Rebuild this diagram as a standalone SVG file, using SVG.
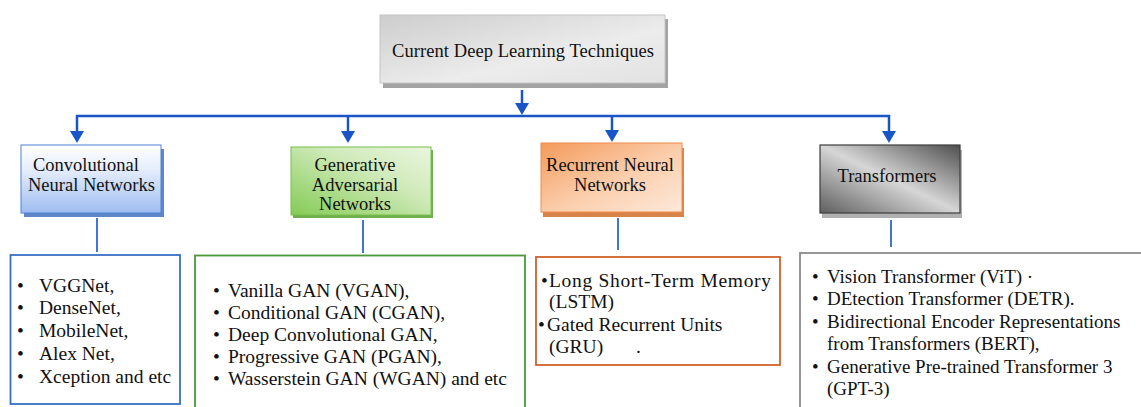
<svg xmlns="http://www.w3.org/2000/svg" width="1141" height="407" viewBox="0 0 1141 407" font-family="'Liberation Serif', 'Times New Roman', Tinos, 'DejaVu Serif', serif">
<defs>
<linearGradient id="gTitle" x1="0" y1="0" x2="1" y2="1">
<stop offset="0" stop-color="#cdcdcd"/><stop offset="0.6" stop-color="#ececec"/><stop offset="1" stop-color="#e2e2e2"/>
</linearGradient>
<linearGradient id="gCnn" x1="0" y1="0" x2="0" y2="1">
<stop offset="0" stop-color="#ffffff"/><stop offset="0.35" stop-color="#e6eefc"/><stop offset="1" stop-color="#9ebdf0"/>
</linearGradient>
<linearGradient id="gGan" x1="0" y1="1" x2="1" y2="0">
<stop offset="0" stop-color="#84cb55"/><stop offset="0.6" stop-color="#cfeab9"/><stop offset="1" stop-color="#eaf6df"/>
</linearGradient>
<linearGradient id="gRnn" x1="0" y1="0" x2="1" y2="1">
<stop offset="0" stop-color="#f49a5b"/><stop offset="0.55" stop-color="#fbcfae"/><stop offset="1" stop-color="#fde9da"/>
</linearGradient>
<linearGradient id="gTr" x1="1" y1="0" x2="0" y2="1">
<stop offset="0" stop-color="#4e4e4e"/><stop offset="0.5" stop-color="#d6d6d6"/><stop offset="1" stop-color="#5e5e5e"/>
</linearGradient>
</defs>
<style>
text{font-family:"Liberation Serif","Times New Roman",Tinos,"DejaVu Serif",serif;fill:#111;}
.hd{font-size:18.5px;}
.li{font-size:19.5px;}
.lt{font-size:19px;}
.arr{stroke:#1a55c8;stroke-width:2.5;fill:none;}
.ah{fill:#1a55c8;}
.sub{stroke:#3f78d4;stroke-width:2;fill:none;}
</style>

<g id="connectors">
<line class="arr" x1="522" y1="90" x2="522" y2="104"/>
<path class="ah" d="M515,103 L529,103 L522,115 Z"/>
<polyline class="arr" points="77,134 77,116 889,116 889,134" stroke-linejoin="miter"/>
<path class="ah" d="M70,131 L84,131 L77,143 Z"/>
<line class="arr" x1="348" y1="116" x2="348" y2="132"/>
<path class="ah" d="M341,131 L355,131 L348,143 Z"/>
<line class="arr" x1="612" y1="116" x2="612" y2="132"/>
<path class="ah" d="M605,130 L619,130 L612,142 Z"/>
<path class="ah" d="M882,131 L896,131 L889,143 Z"/>
<line class="sub" x1="97" y1="218" x2="97" y2="252"/>
<line class="sub" x1="363" y1="220" x2="363" y2="253"/>
<line class="sub" x1="618" y1="218" x2="618" y2="250"/>
<line class="sub" x1="891" y1="220" x2="891" y2="247"/>
</g>

<g id="title">
<rect x="383" y="19" width="285" height="69" fill="#a3a3a3"/>
<rect x="380" y="15" width="285" height="68" fill="url(#gTitle)" stroke="#c4c4c4" stroke-width="1"/>
<text class="hd" x="523" y="57" text-anchor="middle" textLength="262">Current Deep Learning Techniques</text>
</g>

<g id="cnn">
<rect x="24" y="149" width="140" height="68" fill="#5f86c9"/>
<rect x="21" y="145" width="140" height="68" fill="url(#gCnn)" stroke="#4f81d6" stroke-width="1"/>
<text class="hd" x="33" y="171">Convolutional</text>
<text class="hd" x="28" y="191">Neural Networks</text>
</g>

<g id="gan">
<rect x="293" y="150" width="140" height="68" fill="#6fae4c"/>
<rect x="291" y="147" width="140" height="68" fill="url(#gGan)" stroke="#78c048" stroke-width="1"/>
<text class="hd" x="355" y="171" text-anchor="middle">Generative</text>
<text class="hd" x="355" y="191" text-anchor="middle">Adversarial</text>
<text class="hd" x="355" y="210" text-anchor="middle">Networks</text>
</g>

<g id="rnn">
<rect x="543" y="148" width="141" height="69" fill="#d8834a"/>
<rect x="541" y="143" width="141" height="69" fill="url(#gRnn)" stroke="#f08c4a" stroke-width="1"/>
<text class="hd" x="610" y="171" text-anchor="middle">Recurrent Neural</text>
<text class="hd" x="610" y="191" text-anchor="middle">Networks</text>
</g>

<g id="transformers">
<rect x="822" y="150" width="140" height="68" fill="#b0b0b0"/>
<rect x="820" y="145" width="140" height="68" fill="url(#gTr)" stroke="#3c3c3c" stroke-width="1.2"/>
<text class="hd" x="887" y="182" text-anchor="middle">Transformers</text>
</g>

<g id="cnn-list">
<rect x="10.5" y="255" width="169.5" height="149" fill="#fff" stroke="#3a6fc4" stroke-width="1.8"/>
<text class="li" x="17" y="292">•</text><text class="li" x="39" y="292">VGGNet,</text>
<text class="li" x="17" y="314">•</text><text class="li" x="39" y="314">DenseNet,</text>
<text class="li" x="17" y="337">•</text><text class="li" x="39" y="337">MobileNet,</text>
<text class="li" x="17" y="360">•</text><text class="li" x="39" y="360">Alex Net,</text>
<text class="li" x="17" y="383">•</text><text class="li" x="39" y="383">Xception and etc</text>
</g>

<g id="gan-list">
<rect x="195" y="255.5" width="330" height="160" fill="#fff" stroke="#4a9a3a" stroke-width="1.8"/>
<text class="li" x="213" y="297">•</text><text class="li" x="228" y="297">Vanilla  GAN (VGAN),</text>
<text class="li" x="213" y="319">•</text><text class="li" x="228" y="319">Conditional GAN (CGAN),</text>
<text class="li" x="213" y="341">•</text><text class="li" x="228" y="341">Deep Convolutional GAN,</text>
<text class="li" x="213" y="363">•</text><text class="li" x="228" y="363">Progressive GAN (PGAN),</text>
<text class="li" x="213" y="385">•</text><text class="li" x="228" y="385">Wasserstein GAN (WGAN) and etc</text>
</g>

<g id="rnn-list">
<rect x="536" y="257" width="244" height="108" fill="#fff" stroke="#d0622a" stroke-width="1.8"/>
<text class="li" x="541" y="287">•</text><text class="li" x="549" y="287" textLength="222">Long Short-Term Memory</text>
<text class="li" x="549" y="308">(LSTM)</text>
<text class="li" x="538" y="331">•</text><text class="li" x="547" y="331">Gated Recurrent Units</text>
<text class="li" x="549" y="353">(GRU)</text>
<text class="li" x="636" y="353">.</text>
</g>

<g id="transformers-list">
<rect x="800" y="253" width="350" height="170" fill="#fff" stroke="#8a8a8a" stroke-width="1.8"/>
<text class="lt" x="812" y="283">•</text><text class="lt" x="827" y="283">Vision Transformer (ViT) ·</text>
<text class="lt" x="812" y="305">•</text><text class="lt" x="827" y="305">DEtection Transformer (DETR).</text>
<text class="lt" x="812" y="328">•</text><text class="lt" x="827" y="328">Bidirectional Encoder Representations</text>
<text class="lt" x="827" y="350">from Transformers (BERT),</text>
<text class="lt" x="812" y="373">•</text><text class="lt" x="827" y="373">Generative Pre-trained Transformer 3</text>
<text class="lt" x="827" y="395">(GPT-3)</text>
</g>
</svg>
